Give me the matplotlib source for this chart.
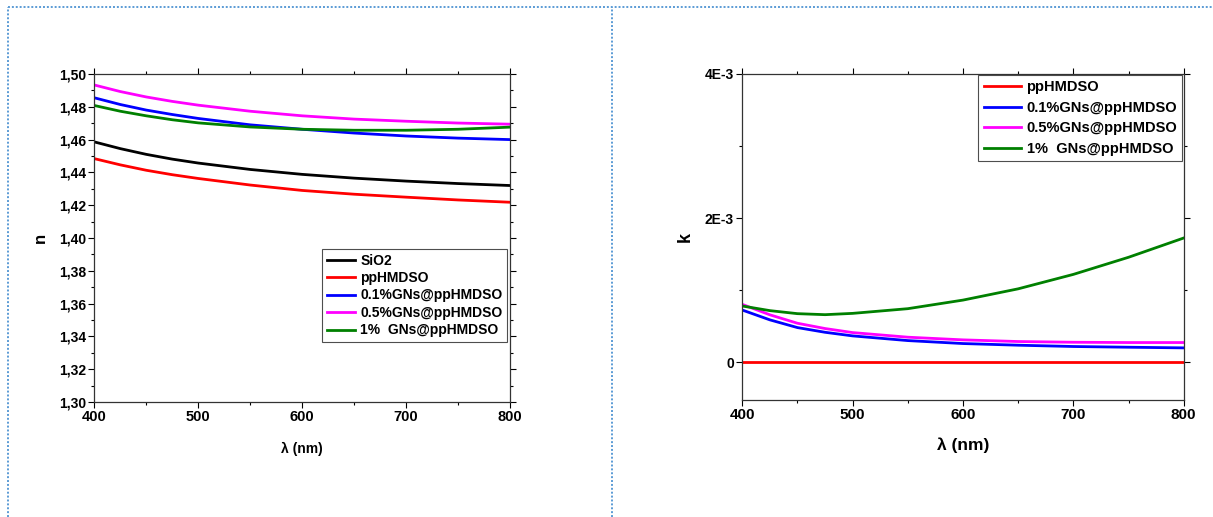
import numpy as np
import matplotlib
matplotlib.use("Agg")
from matplotlib import pyplot as plt
from matplotlib.lines import Line2D
from matplotlib.ticker import MultipleLocator, FuncFormatter

plt.rcParams['font.family'] = ['Liberation Sans', 'DejaVu Sans']
plt.rcParams['font.weight'] = 'bold'
plt.rcParams['axes.labelweight'] = 'bold'

# wavelength grid (nm)
wl = [400, 425, 450, 475, 500, 550, 600, 650, 700, 750, 800]

# refractive index n
n_sio2 = [1.4586, 1.4545, 1.4510, 1.4481, 1.4457, 1.4418, 1.4388, 1.4365, 1.4347, 1.4332, 1.4320]
n_pp = [1.4484, 1.4446, 1.4413, 1.4386, 1.4363, 1.4323, 1.4290, 1.4267, 1.4249, 1.4232, 1.4218]
n_01 = [1.4855, 1.4814, 1.4780, 1.4753, 1.4729, 1.4690, 1.4663, 1.4640, 1.4622, 1.4609, 1.4600]
n_05 = [1.4933, 1.4893, 1.4860, 1.4833, 1.4810, 1.4773, 1.4745, 1.4725, 1.4712, 1.4701, 1.4694]
n_1 = [1.4808, 1.4773, 1.4745, 1.4721, 1.4702, 1.4677, 1.4663, 1.4657, 1.4657, 1.4663, 1.4676]

# extinction coefficient k
k_pp = [0, 0, 0, 0, 0, 0, 0, 0, 0, 0, 0]
k_01 = [0.000726, 0.000590, 0.000483, 0.000418, 0.000368, 0.000303, 0.000262, 0.000239, 0.000221, 0.000211, 0.000202]
k_05 = [0.000805, 0.000660, 0.000543, 0.000470, 0.000414, 0.000350, 0.000313, 0.000290, 0.000280, 0.000276, 0.000276]
k_1 = [0.000782, 0.000718, 0.000676, 0.000662, 0.000680, 0.000745, 0.000864, 0.001020, 0.001220, 0.001457, 0.001724]

labels_n = ["SiO2", "ppHMDSO", "0.1%GNs@ppHMDSO", "0.5%GNs@ppHMDSO", "1%  GNs@ppHMDSO"]
labels_k = ["ppHMDSO", "0.1%GNs@ppHMDSO", "0.5%GNs@ppHMDSO", "1%  GNs@ppHMDSO"]
col_n = ["black", "#ff0000", "#0000ff", "#ff00ff", "#008000"]
col_k = ["#ff0000", "#0000ff", "#ff00ff", "#008000"]

W, H = 1213, 517
fig = plt.figure(figsize=(W / 100, H / 100), dpi=100)


def px(x0, y0, x1, y1):
    return [x0 / W, 1 - y1 / H, (x1 - x0) / W, (y1 - y0) / H]


def style_ticks(ax, xsize, ysize):
    ax.tick_params(which='both', direction='out', top=True, right=True, width=0.8)
    ax.tick_params(which='major', length=4)
    ax.tick_params(which='minor', length=2.5)
    ax.tick_params(axis='x', labelsize=xsize, pad=2)
    ax.tick_params(axis='y', labelsize=ysize, pad=2)
    for s in ax.spines.values():
        s.set_linewidth(0.9)
        s.set_color('#333333')


# left panel: n
ax1 = fig.add_axes(px(94.3, 74, 510, 402))
for ys, c, lab in zip([n_sio2, n_pp, n_01, n_05, n_1], col_n, labels_n):
    ax1.plot(wl, ys, color=c, lw=2.0, label=lab)
ax1.set_xlim(400, 800)
ax1.set_ylim(1.30, 1.50)
ax1.xaxis.set_major_locator(MultipleLocator(100))
ax1.xaxis.set_minor_locator(MultipleLocator(50))
ax1.yaxis.set_major_locator(MultipleLocator(0.02))
ax1.yaxis.set_minor_locator(MultipleLocator(0.01))
ax1.yaxis.set_major_formatter(FuncFormatter(lambda v, p: ("%.2f" % v).replace('.', ',')))
style_ticks(ax1, 10.5, 10)
ax1.set_xlabel("λ (nm)", fontsize=10, labelpad=13)
ax1.set_ylabel("n", fontsize=12, labelpad=8)
leg1 = ax1.legend(loc='lower right', bbox_to_anchor=(0.9935, 0.182), fontsize=10,
                  frameon=True, fancybox=False, edgecolor='#222222', handlelength=2.0,
                  handletextpad=0.4, labelspacing=0.25, borderpad=0.35, borderaxespad=0)
leg1.get_frame().set_linewidth(0.8)

# right panel: k
ax2 = fig.add_axes(px(742.3, 73.7, 1183.7, 400))
for ys, c, lab in zip([k_pp, k_01, k_05, k_1], col_k, labels_k):
    ax2.plot(wl, ys, color=c, lw=2.0, label=lab)
ax2.set_xlim(400, 800)
ax2.set_ylim(-0.00052, 0.004)
ax2.xaxis.set_major_locator(MultipleLocator(100))
ax2.xaxis.set_minor_locator(MultipleLocator(50))
ax2.yaxis.set_major_locator(MultipleLocator(0.002))
ax2.yaxis.set_minor_locator(MultipleLocator(0.001))
ax2.yaxis.set_major_formatter(FuncFormatter(lambda v, p: "0" if abs(v) < 1e-9 else "%dE-3" % round(v * 1000)))
style_ticks(ax2, 11, 10)
ax2.set_xlabel("λ (nm)", fontsize=12.5, labelpad=11)
ax2.set_ylabel("k", fontsize=13, labelpad=8)
leg2 = ax2.legend(loc='upper right', bbox_to_anchor=(0.997, 0.996), fontsize=10.5,
                  frameon=True, fancybox=False, edgecolor='#222222', handlelength=2.6,
                  handletextpad=0.35, labelspacing=0.45, borderpad=0.35, borderaxespad=0)
leg2.get_frame().set_linewidth(0.8)

# dotted page frames
frame_kw = dict(color='#5b9bd5', lw=1.4, ls=(0, (1, 1)), transform=fig.transFigure)
fig.add_artist(Line2D([8 / W, 1], [1 - 7 / H, 1 - 7 / H], **frame_kw))
fig.add_artist(Line2D([8 / W, 8 / W], [0, 1 - 7 / H], **frame_kw))
fig.add_artist(Line2D([612 / W, 612 / W], [0, 1 - 7 / H], **frame_kw))

fig.savefig("out.png", dpi=100)
